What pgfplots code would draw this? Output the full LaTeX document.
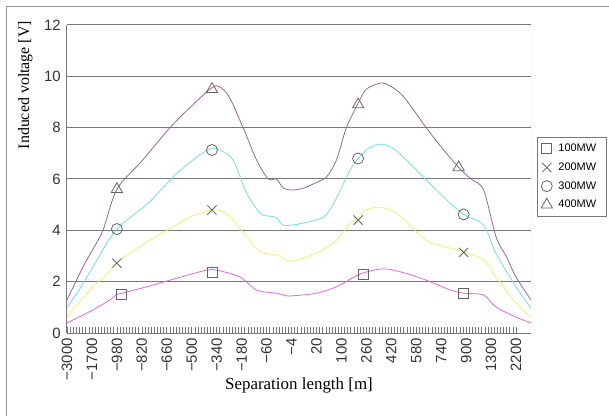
\documentclass[border=0pt]{standalone}
\usepackage{fontspec}
\setmainfont{Liberation Serif}
\setsansfont{Liberation Sans}
\usepackage{pgfplots}
\pgfplotsset{compat=1.18}

\definecolor{c400}{RGB}{150,100,160}
\definecolor{c300}{RGB}{110,225,230}
\definecolor{c200}{RGB}{240,240,110}
\definecolor{c100}{RGB}{225,105,225}
\definecolor{mk}{RGB}{100,100,100}
\definecolor{gridc}{RGB}{120,120,120}

\begin{document}
\begin{tikzpicture}
\useasboundingbox (0,0) rectangle (609bp,416bp);
\draw[gray!85, line width=1bp] (6bp,0) -- (6bp,409bp) -- (609bp,409bp);
\begin{axis}[
    at={(67bp,83bp)}, anchor=south west,
    scale only axis, width=464bp, height=308bp,
    xmin=0, xmax=18.6, ymin=0, ymax=12,
    axis lines*=left,
    axis line style={draw=gridc, line width=1bp},
    ytick={0,2,...,12},
    xtick={0,...,18},
    xticklabels={−3000,−1700,−980,−820,−660,−500,−340,−180,−60,−4,20,100,260,420,580,740,900,1300,2200},
    minor x tick num=7,
    tick align=inside,
    major tick length=6bp, minor tick length=6bp,
    xtick style={draw=gridc, line width=0.6bp},
    minor tick style={draw=gridc, line width=0.6bp},
    ytick style={draw=none},
    ymajorgrids,
    grid style={draw=gridc, line width=1bp},
    /pgf/number format/assume math mode=true,
    xticklabel style={rotate=90, anchor=east, inner xsep=5bp, font=\sffamily\fontsize{15}{16}\selectfont, text=black!80},
    yticklabel style={inner xsep=6bp, font=\sffamily\fontsize{15}{16}\selectfont, text=black!80},
    xlabel={Separation length [m]},
    ylabel={Induced voltage [V]},
    xlabel style={font=\fontsize{17}{18}\selectfont, at={(axis description cs:0.5,-0.135)}, anchor=north},
    ylabel style={font=\fontsize{16}{17}\selectfont, at={(axis description cs:-0.09,0.805)}, anchor=center},
    legend style={at={(rel axis cs:1.0129,0.636)}, anchor=north west, draw=gridc,
        font=\sffamily\fontsize{11}{12}\selectfont, row sep=5.5bp, inner xsep=4bp, inner ysep=5bp,
        nodes={inner xsep=6bp}},
    legend cell align=left,
]
% right border of the plot area
\draw[gray!40, line width=1bp] (rel axis cs:1,0) -- (rel axis cs:1,1);

% 400MW
\addplot[c400, line width=0.8bp, smooth, forget plot] coordinates {
(0,1.29) (0.64,2.57) (1.0,3.2) (1.44,4.0) (2.0,5.6) (3.0,6.7) (4.13,8.0) (5.0,8.85)
(5.8,9.55) (6.1,9.6) (6.5,9.2) (7.06,8.0) (7.6,6.74) (8.07,6.0) (8.4,6.0) (8.67,5.65)
(9.06,5.57) (9.5,5.65) (9.94,5.84) (10.4,6.08) (10.8,6.74) (11.2,8.0) (11.67,8.95)
(12.0,9.5) (12.6,9.74) (13.0,9.6) (13.5,9.2) (14.4,8.0) (15.0,7.25) (15.7,6.45)
(16.2,6.0) (16.7,5.57) (17.2,3.74) (17.6,3.0) (18.0,2.18) (18.6,1.29)
};
% 300MW
\addplot[c300, line width=0.8bp, smooth, forget plot] coordinates {
(0,1.0) (0.5,1.7) (1.04,2.57) (1.6,3.5) (2.0,4.05) (2.4,4.4) (3.3,5.1) (4.25,6.08)
(5.0,6.7) (5.5,7.05) (5.9,7.2) (6.2,7.1) (6.66,6.74) (7.2,5.45) (7.74,4.67) (8.1,4.55)
(8.4,4.5) (8.67,4.2) (9.3,4.25) (10.26,4.5) (10.6,4.9) (10.9,5.45) (11.35,6.35)
(11.67,6.8) (12.1,7.2) (12.6,7.36) (13.2,7.1) (14.4,5.96) (15.2,5.2) (15.9,4.62)
(16.7,4.2) (17.2,3.1) (18.0,1.8) (18.6,0.97)
};
% 200MW
\addplot[c200, line width=0.8bp, smooth, forget plot] coordinates {
(0,0.62) (0.5,1.2) (1.04,1.8) (1.6,2.3) (2.0,2.75) (2.5,3.1) (3.3,3.6) (4.25,4.13)
(5.0,4.55) (5.8,4.79) (6.2,4.75) (6.66,4.4) (7.2,3.74) (7.74,3.16) (8.4,3.04)
(8.8,2.85) (9.06,2.8) (10.0,3.1) (10.8,3.62) (11.35,4.28) (11.67,4.5) (12.0,4.8)
(12.6,4.9) (13.3,4.6) (14.4,3.62) (15.2,3.35) (15.9,3.16) (16.7,2.84) (17.2,2.18)
(18.0,1.17) (18.6,0.62)
};
% 100MW
\addplot[c100, line width=0.8bp, smooth, forget plot] coordinates {
(0,0.39) (1.04,0.9) (1.72,1.29) (2.0,1.5) (2.2,1.55) (3.0,1.75) (4.13,2.06) (5.0,2.3)
(5.6,2.45) (6.0,2.45) (6.94,2.18) (7.6,1.67) (8.4,1.55) (8.8,1.45) (9.06,1.45)
(10.0,1.55) (10.8,1.8) (11.5,2.18) (11.9,2.35) (12.7,2.5) (13.5,2.35) (14.4,2.06)
(15.3,1.7) (15.9,1.55) (16.7,1.48) (17.2,1.01) (18.0,0.62) (18.6,0.39)
};

% markers
\addplot[only marks, mark=square, mark size=5bp, mk, line width=0.8bp, fill=white] coordinates {
(2.2,1.5) (5.81,2.38) (11.9,2.3) (15.9,1.55)
};
\addlegendentry{100MW}
\addplot[only marks, mark=x, mark size=6.5bp, mk, line width=0.8bp] coordinates {
(2.0,2.72) (5.81,4.79) (11.67,4.4) (15.9,3.14)
};
\addlegendentry{200MW}
\addplot[only marks, mark=o, mark size=5.5bp, mk, line width=0.8bp] coordinates {
(2.0,4.05) (5.81,7.13) (11.67,6.8) (15.9,4.62)
};
\addlegendentry{300MW}
\addplot[only marks, mark=triangle, mark size=6.5bp, mk, line width=0.8bp] coordinates {
(2.0,5.6) (5.81,9.5) (11.67,8.9) (15.7,6.45)
};
\addlegendentry{400MW}
\end{axis}
\end{tikzpicture}
\end{document}
